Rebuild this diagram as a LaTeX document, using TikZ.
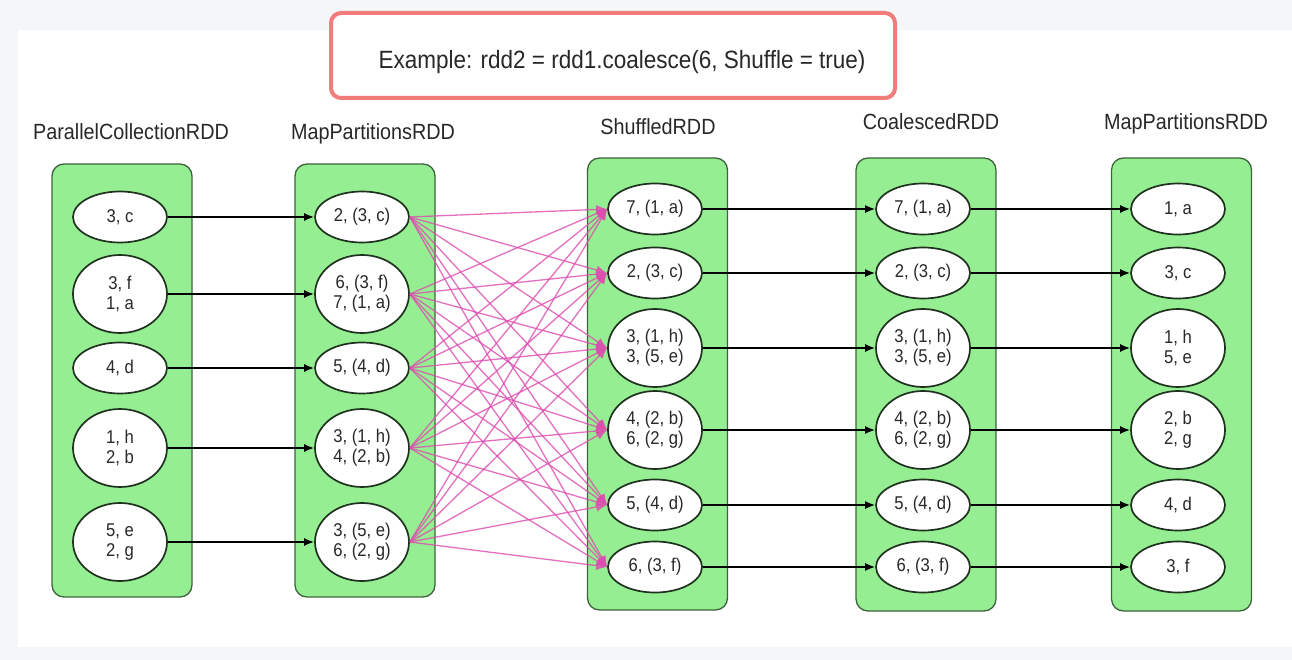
\documentclass[tikz,border=0pt]{standalone}
\usepackage{fontspec}
\setmainfont{Liberation Sans}[FakeStretch=0.9]
\usetikzlibrary{arrows.meta,shapes.geometric}
\definecolor{rddgreen}{RGB}{150,238,146}
\definecolor{rddline}{RGB}{62,100,62}
\definecolor{shufflepink}{RGB}{222,76,176}
\definecolor{titlered}{RGB}{242,124,124}
\definecolor{pagegray}{RGB}{245,246,248}
\definecolor{txtgray}{RGB}{40,40,40}

\begin{document}
\begin{tikzpicture}[x=1pt,y=-1pt,->,>={Latex[length=10pt,width=8pt]},semithick]
  \tikzstyle{rdd}=[rectangle,rounded corners=12pt,draw=rddline,fill=rddgreen,line width=1.3pt,minimum width=140pt]
  \tikzstyle{part}=[ellipse,draw=rddline!50!black,fill=white,line width=1.7pt,inner sep=0pt,minimum width=94pt,minimum height=51pt,text=txtgray,align=center,font=\fontsize{18.5}{20}\selectfont]
  \tikzstyle{part2}=[part,minimum height=78pt]
  \tikzstyle{head}=[anchor=base,text=txtgray,font=\fontsize{22}{24}\selectfont]
  \tikzstyle{titlebox}=[rectangle,rounded corners=10pt,draw=titlered,fill=white,line width=4pt,minimum width=564pt,minimum height=85pt]
  \tikzstyle{move}=[black,line width=1.7pt]
  \tikzstyle{shuffle}=[shufflepink,line width=1.3pt,opacity=0.8,-{Latex[length=11pt,width=9pt]}]

  \fill[pagegray,-] (0,0) rectangle (1292,660);
  \fill[white,-] (18,30) rectangle (1292,647);

  \node[titlebox]      (tbox) at (613,55.5) {};
  \node[anchor=base,text=txtgray,font=\fontsize{25}{28}\selectfont] (title) at (622,69) {Example: rdd2 = rdd1.coalesce(6, Shuffle = true)};

  \node[rdd,minimum height=433pt] (pc) at (122,380.5) {};
  \node[rdd,minimum height=433pt] (mp) at (365,380.5) {};
  \node[rdd,minimum height=452pt] (sh) at (657.5,384) {};
  \node[rdd,minimum height=453pt] (co) at (926,384.5) {};
  \node[rdd,minimum height=453pt] (mq) at (1181.5,384.5) {};

  \node[head]          (pcl) at (131,140) {ParallelCollectionRDD};
  \node[head]          (mpl) at (373,140) {MapPartitionsRDD};
  \node[head]          (shl) at (658,135) {ShuffledRDD};
  \node[head]          (col) at (931,130) {CoalescedRDD};
  \node[head]          (mql) at (1186,130) {MapPartitionsRDD};

  \node[part]          (p1) at (120,217) {3, c};
  \node[part2]         (p2) at (120,294) {3, f\\1, a};
  \node[part]          (p3) at (120,368) {4, d};
  \node[part2]         (p4) at (120,448) {1, h\\2, b};
  \node[part2]         (p5) at (120,542) {5, e\\2, g};

  \node[part]          (m1) at (362,217) {2, (3, c)};
  \node[part2]         (m2) at (362,294) {6, (3, f)\\7, (1, a)};
  \node[part]          (m3) at (362,368) {5, (4, d)};
  \node[part2]         (m4) at (362,448) {3, (1, h)\\4, (2, b)};
  \node[part2]         (m5) at (362,542) {3, (5, e)\\6, (2, g)};

  \node[part]          (s1) at (655,209) {7, (1, a)};
  \node[part]          (s2) at (655,273) {2, (3, c)};
  \node[part2]         (s3) at (655,348) {3, (1, h)\\3, (5, e)};
  \node[part2]         (s4) at (655,430) {4, (2, b)\\6, (2, g)};
  \node[part]          (s5) at (655,505) {5, (4, d)};
  \node[part]          (s6) at (655,567) {6, (3, f)};

  \node[part]          (c1) at (923,209) {7, (1, a)};
  \node[part]          (c2) at (923,273) {2, (3, c)};
  \node[part2]         (c3) at (923,348) {3, (1, h)\\3, (5, e)};
  \node[part2]         (c4) at (923,430) {4, (2, b)\\6, (2, g)};
  \node[part]          (c5) at (923,505) {5, (4, d)};
  \node[part]          (c6) at (923,567) {6, (3, f)};

  \node[part]          (r1) at (1178,209) {1, a};
  \node[part]          (r2) at (1178,273) {3, c};
  \node[part2]         (r3) at (1178,348) {1, h\\5, e};
  \node[part2]         (r4) at (1178,430) {2, b\\2, g};
  \node[part]          (r5) at (1178,505) {4, d};
  \node[part]          (r6) at (1178,567) {3, f};

  \path[move] (p1.east) edge (m1.west)
              (p2.east) edge (m2.west)
              (p3.east) edge (m3.west)
              (p4.east) edge (m4.west)
              (p5.east) edge (m5.west);

  \path[shuffle] (m1.east) edge (s1.west) edge (s2.west) edge (s3.west) edge (s4.west) edge (s5.west) edge (s6.west)
                 (m2.east) edge (s1.west) edge (s2.west) edge (s3.west) edge (s4.west) edge (s5.west) edge (s6.west)
                 (m3.east) edge (s1.west) edge (s2.west) edge (s3.west) edge (s4.west) edge (s5.west) edge (s6.west)
                 (m4.east) edge (s1.west) edge (s2.west) edge (s3.west) edge (s4.west) edge (s5.west) edge (s6.west)
                 (m5.east) edge (s1.west) edge (s2.west) edge (s3.west) edge (s4.west) edge (s5.west) edge (s6.west);

  \path[move] (s1.east) edge (c1.west)
              (s2.east) edge (c2.west)
              (s3.east) edge (c3.west)
              (s4.east) edge (c4.west)
              (s5.east) edge (c5.west)
              (s6.east) edge (c6.west)
              (c1.east) edge (r1.west)
              (c2.east) edge (r2.west)
              (c3.east) edge (r3.west)
              (c4.east) edge (r4.west)
              (c5.east) edge (r5.west)
              (c6.east) edge (r6.west);
\end{tikzpicture}
\end{document}
